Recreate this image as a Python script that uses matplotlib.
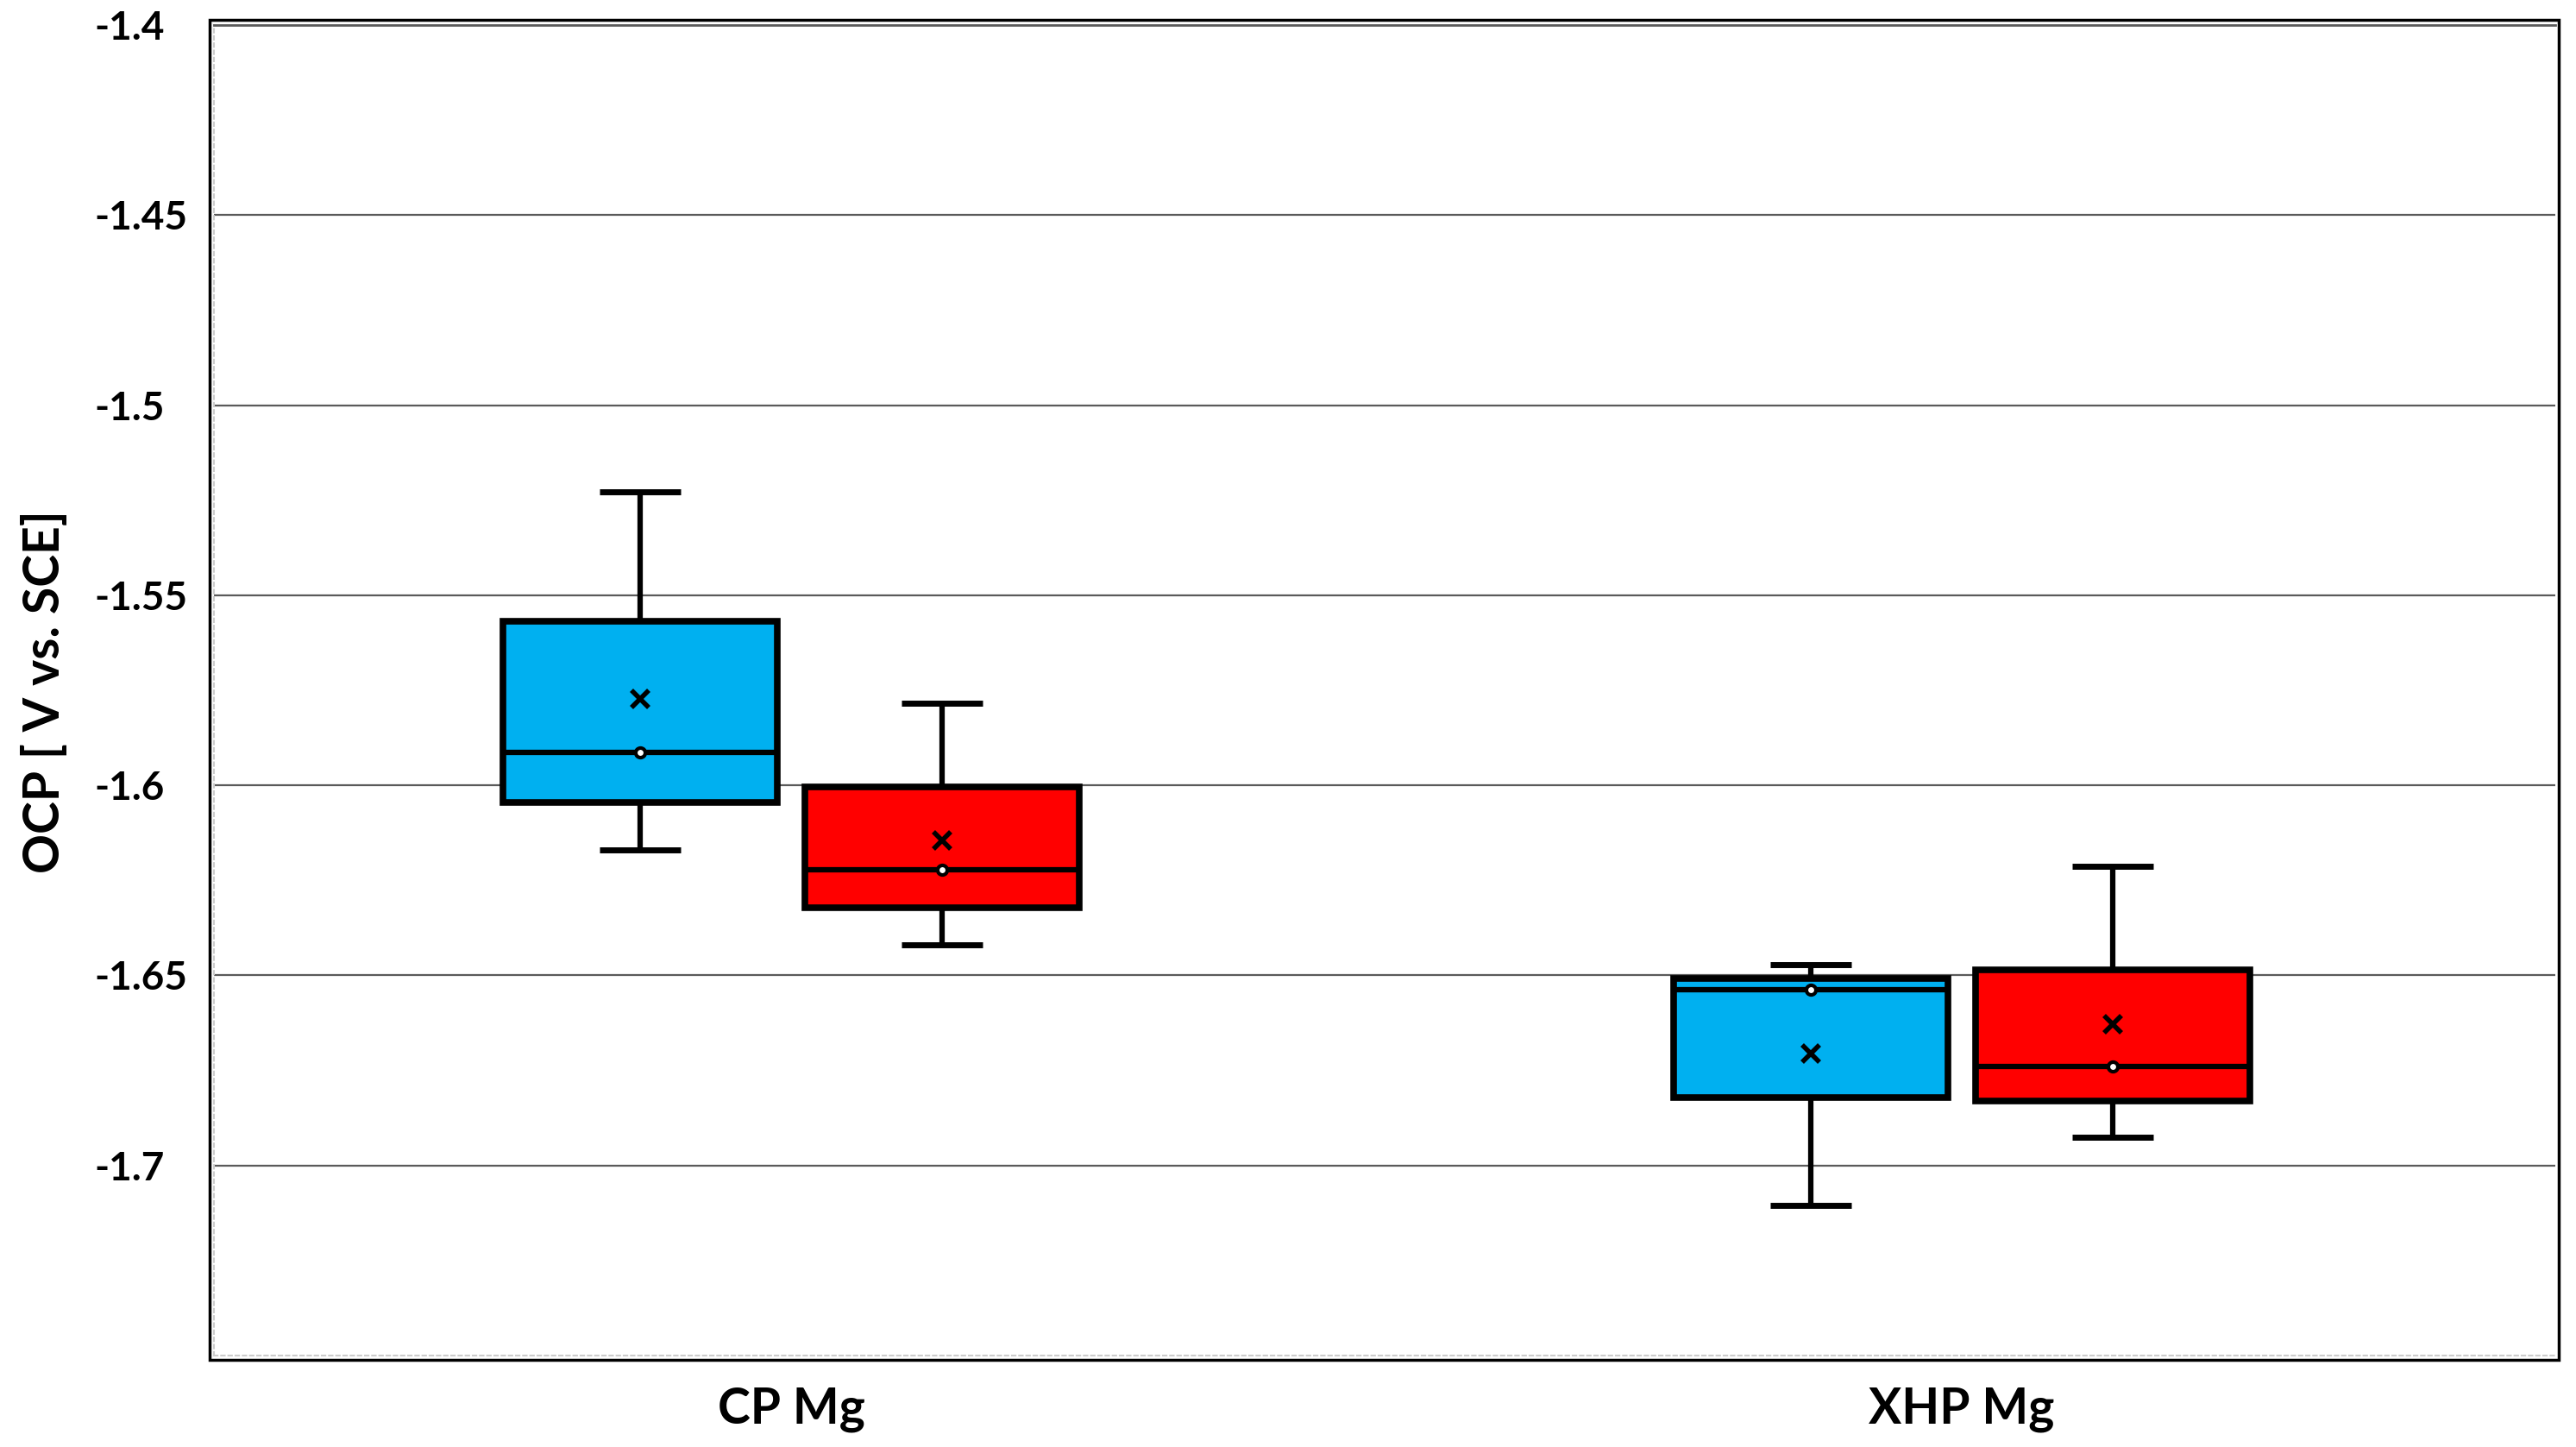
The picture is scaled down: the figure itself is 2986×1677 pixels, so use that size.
import matplotlib
matplotlib.use("Agg")
import matplotlib.pyplot as plt
from matplotlib.patches import Rectangle
import numpy as np

categories = ["CP Mg", "XHP Mg"]
series_names = ["blue", "red"]
# per series: values for [CP Mg, XHP Mg]
whis_hi = {"blue": [-1.5227, -1.6472], "red": [-1.5785, -1.6213]}
q3 = {"blue": [-1.5568, -1.6507], "red": [-1.6005, -1.6485]}
median = {"blue": [-1.5914, -1.6537], "red": [-1.6221, -1.6740]}
mean = {"blue": [-1.5772, -1.6706], "red": [-1.6144, -1.6628]}
q1 = {"blue": [-1.6044, -1.6822], "red": [-1.6321, -1.6831]}
whis_lo = {"blue": [-1.6169, -1.7104], "red": [-1.6420, -1.6926]}
colors = {"blue": "#00B0F0", "red": "#FF0000"}
yticks = [-1.4, -1.45, -1.5, -1.55, -1.6, -1.65, -1.7]
ytick_labels = ["-1.4", "-1.45", "-1.5", "-1.55", "-1.6", "-1.65", "-1.7"]

plt.rcParams['font.family'] = ['Lato', 'DejaVu Sans']

W, H = 2986, 1677
fig = plt.figure(figsize=(W / 100, H / 100), dpi=100)
ax = fig.add_axes([248 / W, 1 - 1571 / H, (2962 - 248) / W, (1571 - 29) / H])

offsets = {"blue": -0.129, "red": 0.129}
box_w = 0.234
cap_w = 0.069

for s in series_names:
    stats = []
    pos = []
    for i in range(len(categories)):
        stats.append(dict(med=median[s][i], q1=q1[s][i], q3=q3[s][i],
                          whislo=whis_lo[s][i], whishi=whis_hi[s][i],
                          mean=mean[s][i], fliers=[]))
        pos.append(i + 1 + offsets[s])
    ax.bxp(stats, positions=pos, widths=box_w, capwidths=cap_w,
           patch_artist=True, showmeans=True, showfliers=False,
           boxprops=dict(facecolor=colors[s], edgecolor="black", linewidth=5.5),
           whiskerprops=dict(color="black", linewidth=4.5, solid_capstyle="butt"),
           capprops=dict(color="black", linewidth=5, solid_capstyle="butt"),
           medianprops=dict(color="black", linewidth=4.5),
           meanprops=dict(marker="x", markeredgecolor="black", markersize=14,
                          markeredgewidth=4),
           manage_ticks=False, zorder=3)
    ax.plot(pos, median[s], linestyle="none", marker="o", markersize=8,
            markerfacecolor="white", markeredgecolor="black",
            markeredgewidth=3, zorder=5)

ax.set_xlim(0.507, 2.507)
ax.set_ylim(-1.75, -1.4)
ax.set_yticks(yticks)
ax.set_yticklabels(ytick_labels)
ax.set_xticks([1, 2])
ax.set_xticklabels(categories)
ax.grid(axis="y", color="#5a5a5a", linewidth=1.6, zorder=0)
ax.set_axisbelow(True)
ax.tick_params(axis="both", length=0)
ax.tick_params(axis="y", pad=100, labelsize=33)
ax.tick_params(axis="x", pad=26, labelsize=41)
for lab in ax.get_yticklabels():
    lab.set_fontweight("bold")
    lab.set_horizontalalignment("left")
for lab in ax.get_xticklabels():
    lab.set_fontweight("bold")

for side in ["left", "bottom"]:
    ax.spines[side].set_color("#cccccc")
    ax.spines[side].set_linewidth(1.5)
    ax.spines[side].set_linestyle((0, (2, 2)))
ax.spines["top"].set_color("#5a5a5a")
ax.spines["top"].set_linewidth(2)
ax.spines["right"].set_visible(False)

fig.text(52 / W, 1 - 802 / H, "OCP [ V vs. SCE]", fontsize=41,
         fontweight="bold", rotation=90, ha="center", va="center")

fig.patches.append(Rectangle((243 / W, 1 - 1576 / H), (2966 - 243) / W,
                             (1576 - 23) / H, transform=fig.transFigure,
                             fill=False, edgecolor="black", linewidth=2.5))

fig.savefig("out.png", dpi=100)
